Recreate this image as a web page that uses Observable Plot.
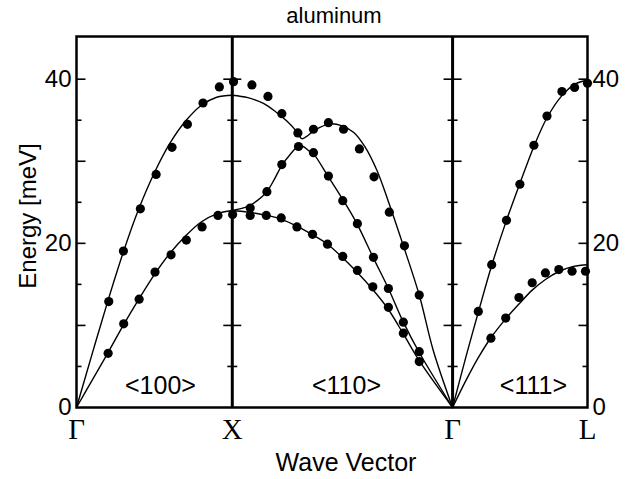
<!DOCTYPE html>
<html><head><meta charset="utf-8">
<script src="https://cdn.jsdelivr.net/npm/d3@7"></script>
<script src="https://cdn.jsdelivr.net/npm/@observablehq/plot@0.6"></script>
<style>body{margin:0;background:#fff;}</style>
</head><body><div id="chart"></div>
<script>
// symmetry points (wave vector, units of 2π/a along path)
const symX = [0, 1, 2.414, 3.28];
const symLabels = ["Γ", "X", "Γ", "L"];
const dirLabels = ["<100>", "<110>", "<111>"];
const yTickLabels = [0, 20, 40];
const yTicks = [5, 10, 15, 20, 25, 30, 35, 40];

// measured phonon energies [meV]
const dotsLA100 = [[0.207,12.9],[0.301,19.06],[0.41,24.2],[0.511,28.4],[0.613,31.7],[0.712,34.5],[0.812,37.1],[0.917,39.06],[1.008,39.7]];
const dotsTA100 = [[0.203,6.6],[0.303,10.2],[0.402,13.2],[0.504,16.5],[0.607,18.6],[0.705,20.4],[0.806,22.0],[0.908,23.4],[1.002,23.5]];
const dotsA110 = [[1.126,39.3],[1.229,37.9],[1.318,35.8],[1.421,33.45],[1.521,33.9],[1.617,34.7],[1.714,33.9],[1.816,31.5],[1.91,28.1],[2.008,23.8],[2.105,19.7],[2.2,13.7]];
const dotsB110 = [[1.115,24.3],[1.222,26.3],[1.318,29.6],[1.425,31.8],[1.521,31.05],[1.617,28.2],[1.709,25.2],[1.803,22.4],[1.906,18.3],[2.002,14.5],[2.098,10.4],[2.2,6.8]];
const dotsC110 = [[1.115,23.4],[1.218,23.4],[1.314,23.1],[1.415,22.0],[1.515,21.1],[1.611,19.9],[1.709,18.4],[1.803,16.7],[1.902,14.7],[2.002,12.2],[2.098,9.06],[2.2,5.6]];
const dotsLA111 = [[2.579,11.7],[2.665,17.4],[2.76,22.8],[2.846,27.2],[2.936,31.95],[3.02,35.5],[3.116,38.5],[3.197,39.0],[3.28,39.5]];
const dotsTA111 = [[2.66,8.45],[2.755,10.9],[2.84,13.4],[2.925,15.2],[3.01,16.4],[3.096,16.8],[3.181,16.6],[3.267,16.6]];

// calculated dispersion curves [meV]
const curveLA100 = [[0,0],[0.1,6.5],[0.2,12.9],[0.3,18.9],[0.4,24.2],[0.5,28.6],[0.6,32.2],[0.7,34.9],[0.8,36.8],[0.9,37.8],[1.0,38.05]];
const curveTA100 = [[0,0],[0.1,3.3],[0.2,6.6],[0.3,10.0],[0.4,13.2],[0.5,16.2],[0.6,18.8],[0.7,20.9],[0.8,22.6],[0.9,23.6],[1.0,24.0]];
const curveA110 = [[1.0,38.05],[1.1,37.75],[1.2,37.05],[1.28,36.0],[1.35,34.9],[1.41,33.7],[1.447,32.75],[1.475,33.0],[1.53,33.8],[1.628,34.55],[1.7,34.35],[1.78,33.5],[1.85,31.8],[1.928,28.9],[2.0,25.2],[2.1,19.6],[2.2,13.7],[2.29,6.95],[2.414,0]];
const curveB110 = [[1.0,24.0],[1.1,24.5],[1.16,25.2],[1.222,26.3],[1.27,27.8],[1.318,29.5],[1.37,30.8],[1.425,31.85],[1.455,31.8],[1.49,31.3],[1.521,30.9],[1.617,28.1],[1.714,25.2],[1.8,22.4],[1.906,18.2],[2.002,14.5],[2.098,10.4],[2.2,6.7],[2.414,0]];
const curveC110 = [[1.0,24.0],[1.1,23.8],[1.222,23.4],[1.32,22.9],[1.415,22.1],[1.51,21.1],[1.607,19.95],[1.7,18.4],[1.8,16.5],[1.9,14.4],[2.0,12.0],[2.1,8.9],[2.2,5.7],[2.414,0]];
const curveLA111 = [[2.414,0],[2.5,6.2],[2.579,11.6],[2.665,17.3],[2.76,22.8],[2.846,27.3],[2.936,31.8],[3.02,35.3],[3.116,38.0],[3.2,39.4],[3.28,39.9]];
const curveTA111 = [[2.414,0],[2.5,3.3],[2.58,6.1],[2.66,8.5],[2.755,10.8],[2.84,12.6],[2.925,14.3],[3.01,15.6],[3.1,16.6],[3.19,17.2],[3.28,17.4]];

// layout of the direction labels (data units)
const dirLabelX = [0.539, 1.733, 2.933];
const dirLabelY = 1.7;

const sans = "'Liberation Sans', Arial, Helvetica, sans-serif";
const serif = "'Liberation Serif', 'Times New Roman', serif";

const curves = [curveLA100, curveTA100, curveA110, curveB110, curveC110, curveLA111, curveTA111];
const dots = [dotsLA100, dotsTA100, dotsA110, dotsB110, dotsC110, dotsLA111, dotsTA111].flat();

// tick table
const tickRows = [];
symX.forEach((x, i) => {
  const side = i === 0 ? "left" : i === symX.length - 1 ? "right" : "mid";
  yTicks.forEach(y => tickRows.push({x, y, side, major: y % 10 === 0}));
});
function hSym(a, b) { return {draw(ctx) { ctx.moveTo(a, 0); ctx.lineTo(b, 0); }}; }
const tickLen = {true: 9, false: 5};
const tickMarks = [];
for (const side of ["left", "mid", "right"]) {
  for (const major of [true, false]) {
    const L = tickLen[major];
    const sym = side === "left" ? hSym(0, L) : side === "right" ? hSym(-L, 0) : hSym(-L, L);
    tickMarks.push(Plot.dot(tickRows.filter(d => d.side === side && d.major === major),
      {x: "x", y: "y", symbol: sym, r: 5, fill: "none", stroke: "black", strokeWidth: 1.6}));
  }
}

const chart = Plot.plot({
  width: 635, height: 479,
  marginLeft: 76, marginRight: 48, marginTop: 36, marginBottom: 72,
  style: {fontFamily: sans, fontSize: "24px", color: "black", background: "white", overflow: "visible"},
  x: {domain: [0, 3.28], axis: null},
  y: {domain: [0, 45.2], axis: null},
  marks: [
    ...tickMarks,
    ...curves.map(c => Plot.line(c, {x: d => d[0], y: d => d[1], curve: "catmull-rom", stroke: "black", strokeWidth: 1.4})),
    Plot.dot(dots, {x: d => d[0], y: d => d[1], r: 4.6, fill: "black", stroke: "none"}),
    Plot.ruleX([symX[1], symX[2]], {stroke: "black", strokeWidth: 3}),
    Plot.frame({stroke: "black", strokeWidth: 2.5}),
    Plot.text(dirLabels, {x: (d, i) => dirLabelX[i], y: dirLabelY, text: d => d, lineAnchor: "bottom", fontSize: 25}),
    Plot.text(yTickLabels, {y: d => d, frameAnchor: "left", dx: -5, textAnchor: "end", text: d => String(d), fontSize: 24}),
    Plot.text(yTickLabels, {y: d => d, frameAnchor: "right", dx: 5, textAnchor: "start", text: d => String(d), fontSize: 24}),
    Plot.text(symX, {x: d => d, frameAnchor: "bottom", dy: 31, lineAnchor: "bottom", text: (d, i) => symLabels[i], fontFamily: serif, fontSize: 29}),
    Plot.text(["Wave Vector"], {frameAnchor: "bottom", dx: 14, dy: 63, lineAnchor: "bottom", text: d => d, fontSize: 25}),
    Plot.text(["Energy [meV]"], {frameAnchor: "left", dx: -48, dy: -6, rotate: -90, textAnchor: "middle", text: d => d, fontSize: 24}),
    Plot.text(["aluminum"], {frameAnchor: "top", dx: 2, dy: -14, lineAnchor: "bottom", textAnchor: "middle", text: d => d, fontSize: 22})
  ]
});
document.getElementById("chart").appendChild(chart);
</script>
</body></html>
